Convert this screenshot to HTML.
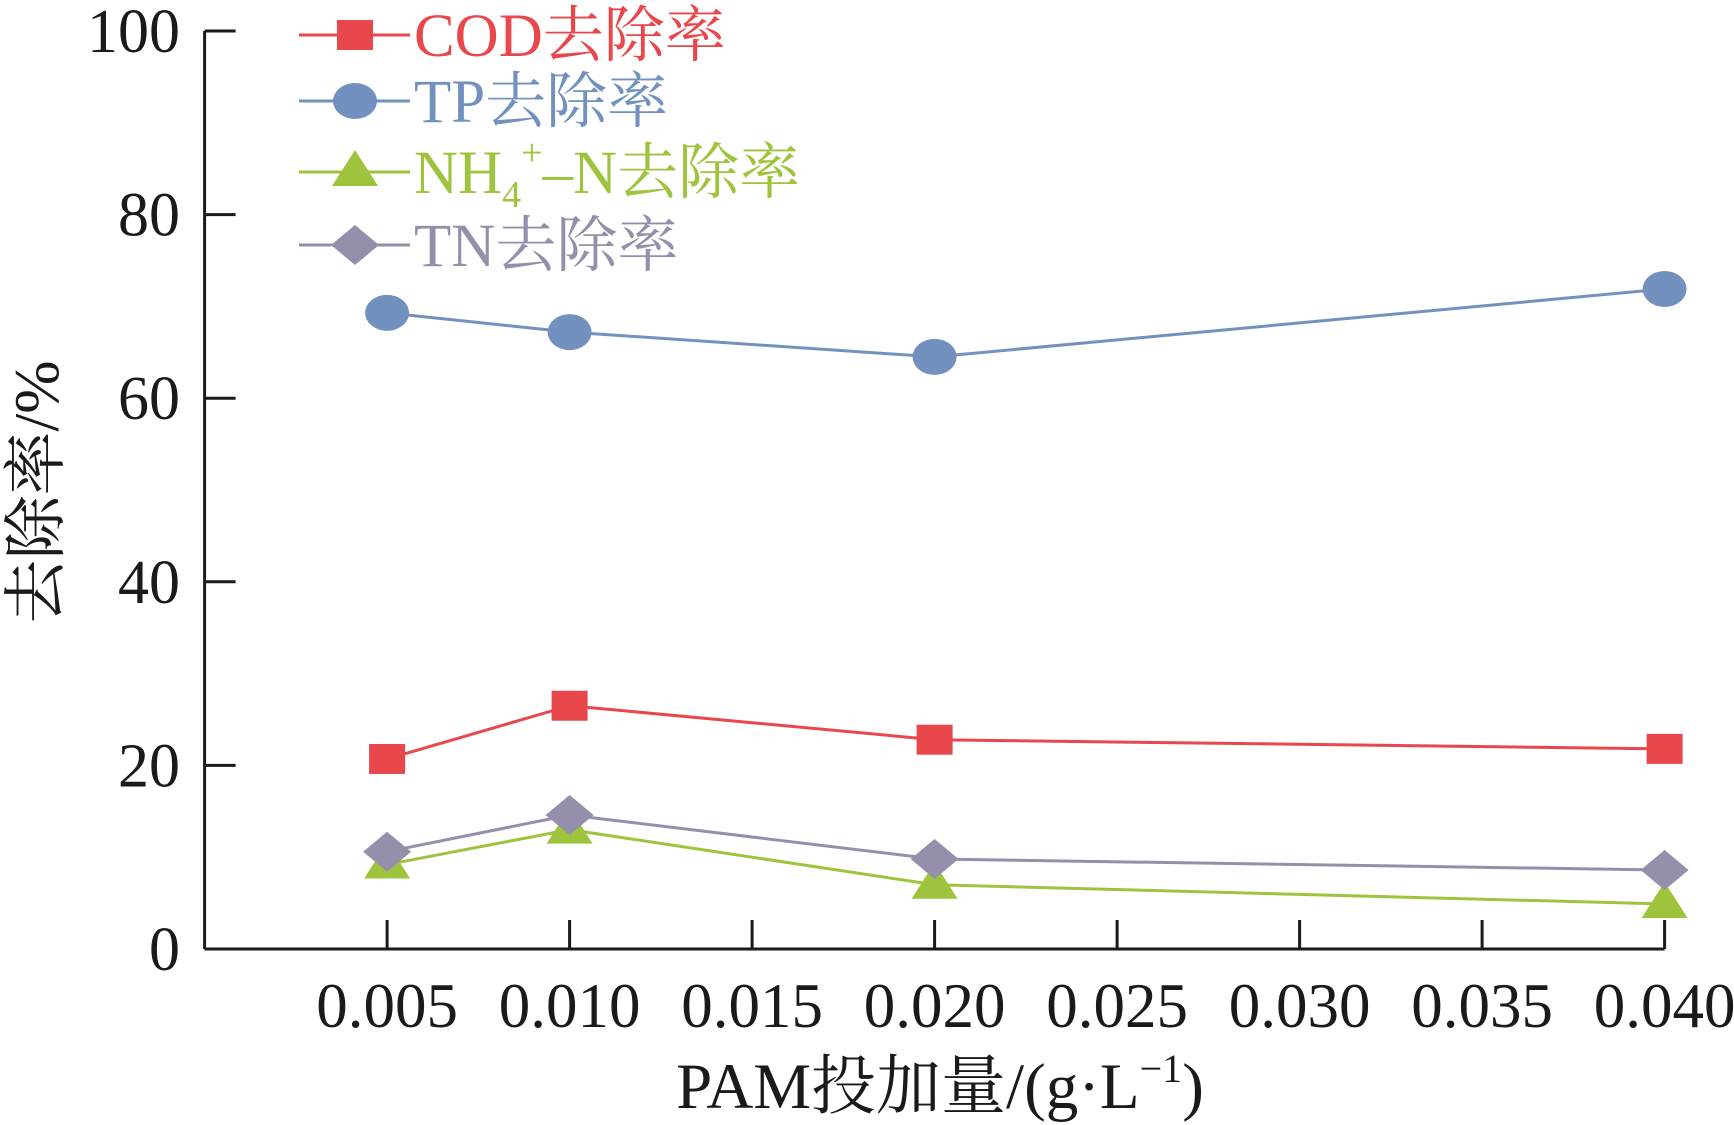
<!DOCTYPE html>
<html><head><meta charset="utf-8"><style>
html,body{margin:0;padding:0;background:#fff}
svg{display:block}
text{font-family:"Liberation Serif","Noto Serif CJK SC",serif}
</style></head><body>
<svg id="chart" width="1734" height="1125" viewBox="0 0 1734 1125" xmlns="http://www.w3.org/2000/svg">
<g id="axes"></g>
<g id="series"></g>
<g id="legend"></g>
<text x="940" y="1108" font-size="65" text-anchor="middle" fill="#1a1a1a">PAM投加量/(g·L<tspan dy="-26" font-size="40">−1</tspan><tspan dy="26">)</tspan></text>
<text transform="translate(58,492) rotate(-90)" font-size="64" text-anchor="middle" fill="#1a1a1a">去除率/%</text>
</svg>
<script>
const xCategories = [0.005, 0.010, 0.020, 0.040];
const xTicks = [0.005, 0.010, 0.015, 0.020, 0.025, 0.030, 0.035, 0.040];
const xTickLabels = ["0.005","0.010","0.015","0.020","0.025","0.030","0.035","0.040"];
const yTicks = [0, 20, 40, 60, 80, 100];
const codValues = [20.7, 26.5, 22.8, 21.8];
const tpValues = [69.3, 67.2, 64.5, 71.9];
const nh4Values = [9.2, 13.0, 7.0, 4.9];
const tnValues = [10.6, 14.6, 9.8, 8.6];

const NS = "http://www.w3.org/2000/svg";
const X0 = 204.6, Y0 = 949, Y100 = 31;
function xs(v){ return X0 + v * 36500; }
function ys(v){ return Y0 - (Y0 - Y100) * v / 100; }
function mk(tag, attrs, parent){
  const e = document.createElementNS(NS, tag);
  for (const k in attrs) e.setAttribute(k, attrs[k]);
  parent.appendChild(e); return e;
}
const axes = document.getElementById('axes');
let l = mk('line', {x1:X0, y1:Y100, x2:X0, y2:Y0, stroke:'#1a1a1a', 'stroke-width':3}, axes);


l = mk('line', {x1:X0, y1:Y0, x2:xs(0.040), y2:Y0, stroke:'#1a1a1a', 'stroke-width':3}, axes);


yTicks.forEach(t => {
  const y = ys(t);
  const tk = mk('line', {x1:X0, y1:y, x2:X0+31, y2:y, stroke:'#1a1a1a', 'stroke-width':3}, axes);
  
  
  const tx = mk('text', {x:180, y:y+21, 'font-size':62, 'text-anchor':'end', fill:'#1a1a1a'}, axes);
  tx.textContent = t;
  
  
});
xTicks.forEach((t, i) => {
  const x = xs(t);
  const tk = mk('line', {x1:x, y1:Y0, x2:x, y2:Y0-29, stroke:'#1a1a1a', 'stroke-width':3}, axes);
  
  
  const tx = mk('text', {x:x, y:1027, 'font-size':63, 'text-anchor':'middle', fill:'#1a1a1a'}, axes);
  tx.textContent = xTickLabels[i];
  
  
});

function marker(type, x, y, color, parent){
  let e;
  if (type === 'square') e = mk('rect', {x:x-18, y:y-15, width:36, height:30, fill:color}, parent);
  else if (type === 'circle') e = mk('ellipse', {cx:x, cy:y, rx:22, ry:18, fill:color}, parent);
  else if (type === 'triangle') e = mk('polygon', {points:`${x},${y-22} ${x-23},${y+14} ${x+23},${y+14}`, fill:color}, parent);
  else e = mk('polygon', {points:`${x},${y-20} ${x+24},${y} ${x},${y+20} ${x-24},${y}`, fill:color}, parent);
  return e;
}
const seriesList = [
  {name:'tp', vals:tpValues, color:'#7291bf', m:'circle'},
  {name:'cod', vals:codValues, color:'#e8474c', m:'square'},
  {name:'nh4', vals:nh4Values, color:'#9dc43c', m:'triangle'},
  {name:'tn', vals:tnValues, color:'#958fac', m:'diamond'}
];
const sg = document.getElementById('series');
seriesList.forEach(s => {
  const g = mk('g', {}, sg);
  
  
  const pts = s.vals.map((v, i) => xs(xCategories[i]) + ',' + ys(v)).join(' ');
  const pl = mk('polyline', {points:pts, fill:'none', stroke:s.color, 'stroke-width':3}, g);
  
  
  s.vals.forEach((v, i) => {
    const m = marker(s.m, xs(xCategories[i]), ys(v), s.color, g);
    
    
  });
});

const lg = document.getElementById('legend');
const legendItems = [
  {y:35, color:'#e8474c', m:'square', label:'COD去除率', name:'legend-cod'},
  {y:101, color:'#7291bf', m:'circle', label:'TP去除率', name:'legend-tp'},
  {y:172, color:'#9dc43c', m:'triangle', label:'NH4+-N去除率', name:'legend-nh4'},
  {y:245, color:'#958fac', m:'diamond', label:'TN去除率', name:'legend-tn'}
];
legendItems.forEach(it => {
  const g = mk('g', {}, lg);
  
  
  mk('line', {x1:299, y1:it.y, x2:410, y2:it.y, stroke:it.color, 'stroke-width':3}, g);
  marker(it.m, 355, it.y, it.color, g);
  const t = mk('text', {x:414, y:it.y+21, 'font-size':61, fill:it.color}, g);
  if (it.m === 'triangle') {
    t.innerHTML = 'NH<tspan dy="14" font-size="38">4</tspan><tspan dy="-42" font-size="38">+</tspan><tspan dy="28">–N去除率</tspan>';
  } else t.textContent = it.label;
});
</script>
</body></html>
